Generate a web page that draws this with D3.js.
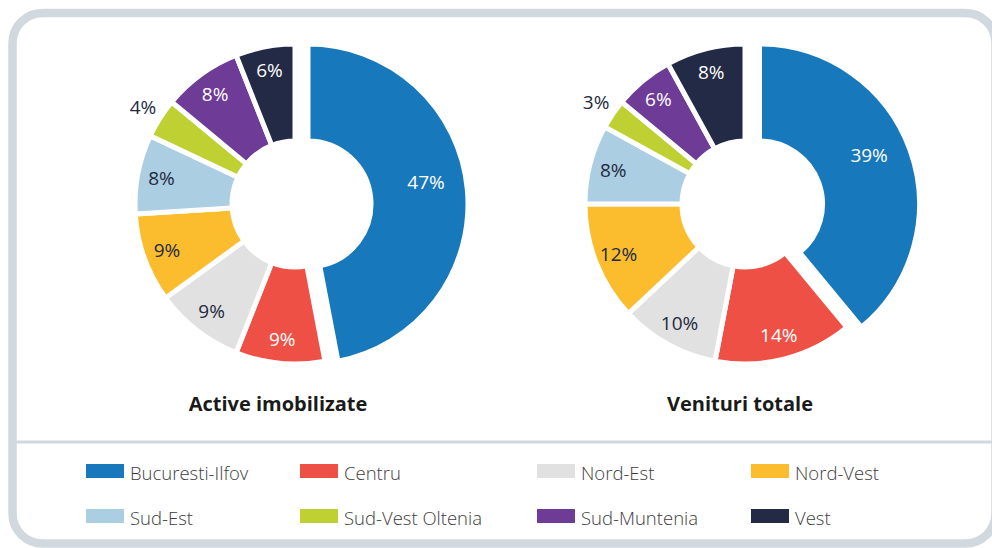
<!DOCTYPE html>
<html><head><meta charset="utf-8">
<script src="https://cdn.jsdelivr.net/npm/d3@7"></script>
<style>
html,body{margin:0;padding:0;background:#fff;}
svg{display:block;}
</style></head>
<body>
<svg id="c" width="992" height="548"></svg>
<script>
const categories = ["Bucuresti-Ilfov","Centru","Nord-Est","Nord-Vest","Sud-Est","Sud-Vest Oltenia","Sud-Muntenia","Vest"];
const activeValues = [47,9,9,9,8,4,8,6];
const venituriValues = [39,14,10,12,8,3,6,8];
const chartTitles = ["Active imobilizate","Venituri totale"];
const sliceColors = ["#1878bc","#ee5045","#e1e1e1","#fbbd2e","#abcee3","#bfd033","#6e3b96","#232a45"];
const labelDark = [false,false,true,true,true,true,false,false];

const svg = d3.select("#c");
const frameColor = "#d1d9de";

// frame
svg.append("rect").attr("x",12.5).attr("y",13).attr("width",983).attr("height",530.5)
  .attr("rx",30).attr("fill","#fff").attr("stroke",frameColor).attr("stroke-width",8.5);
svg.append("line").attr("x1",16).attr("x2",992).attr("y1",442).attr("y2",442)
  .attr("stroke",frameColor).attr("stroke-width",3);

const charts = [
  {values: activeValues, title: chartTitles[0], cx: 295, cy: 204, explode: 13, tx: 278},
  {values: venituriValues, title: chartTitles[1], cx: 745, cy: 204, explode: 14.5, tx: 740}
];

const pie = d3.pie().sort(null).value(d => d);
const arc = d3.arc().innerRadius(63).outerRadius(160);
const labelArc = r => d3.arc().innerRadius(r).outerRadius(r);

charts.forEach(ch => {
  const g = svg.append("g").attr("transform", `translate(${ch.cx},${ch.cy})`);
  const arcs = pie(ch.values);
  const slices = g.selectAll("g.s").data(arcs).enter().append("g")
    .attr("transform", (d,i) => i === 0 ? `translate(${ch.explode},0)` : null);
  slices.append("path").attr("d", arc)
    .attr("fill", (d,i) => sliceColors[i])
    .attr("stroke","#fff").attr("stroke-width",5).attr("stroke-linejoin","miter");
  slices.append("text")
    .attr("transform", (d,i) => {
      let x, y;
      if (i === 0) {
        [x, y] = d3.pointRadial(d.startAngle + 0.47 * (d.endAngle - d.startAngle), 120);
      } else {
        [x, y] = labelArc(d.data < 5 ? 180 : 136).centroid(d);
      }
      return `translate(${x},${y})`;
    })
    .attr("text-anchor","middle").attr("dy","0.35em")
    .style("font-family","'Open Sans', sans-serif").style("font-size","19px")
    .attr("fill", (d,i) => (labelDark[i] || d.data < 5) ? "#232a40" : "#fff")
    .text(d => d.data + "%");
  svg.append("text").attr("x", ch.tx).attr("y", 411).attr("text-anchor","middle")
    .style("font-family","'Open Sans', sans-serif").style("font-size","20px").style("font-weight","700")
    .attr("fill","#1a1a1a").text(ch.title);
});

// legend
const legendCols = [86, 300, 537, 751];
const legendRows = [464, 509];
const lg = svg.append("g");
categories.forEach((c,i) => {
  const x = legendCols[i % 4], y = legendRows[Math.floor(i / 4)];
  lg.append("rect").attr("x",x).attr("y",y).attr("width",38).attr("height",14).attr("fill",sliceColors[i]);
  lg.append("text").attr("x",x+44).attr("y",y+16)
    .style("font-family","'Open Sans', sans-serif").style("font-size","18.5px")
    .style("font-weight","300")
    .attr("fill","#3d3d3d").text(c);
});
</script>
</body></html>
